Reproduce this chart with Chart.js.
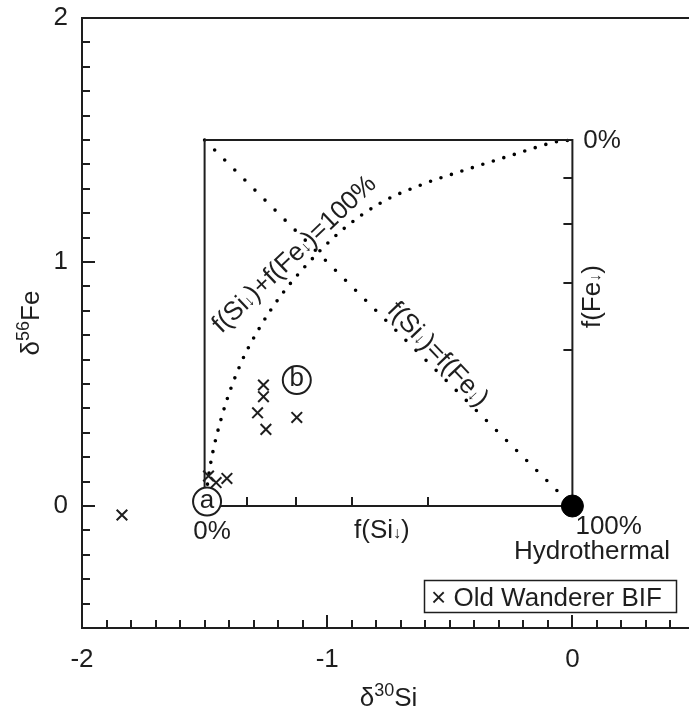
<!DOCTYPE html>
<html>
<head>
<meta charset="utf-8">
<script src="https://cdn.jsdelivr.net/npm/chart.js@4.4.0/dist/chart.umd.min.js"></script>
<style>
  html, body { margin: 0; padding: 0; background: #fff; overflow: hidden; }
</style>
</head>
<body>
<div style="width:711px;height:713px;overflow:hidden">
<canvas id="chart" width="711" height="713" style="width:711px;height:713px"></canvas>
</div>
<script>
// Old Wanderer BIF samples
const wandererX = [-1.837, -1.484, -1.453, -1.409, -1.26, -1.26, -1.284, -1.25, -1.124]
const wandererY = [-0.037, 0.123, 0.096, 0.113, 0.496, 0.448, 0.382, 0.314, 0.363]

// mixing box corners
const boxX = [-1.5, -1.5, 0, 0, -1.5]
const boxY = [1.5, 0, 0, 1.5, 1.5]

// f(Si)=f(Fe) diagonal
const diagX = [-1.5, 0]
const diagY = [1.5, 0]

// f(Si)+f(Fe)=100% curve
const curveX = [-1.5, -1.478, -1.43, -1.355, -1.273, -1.192, -1.097, -0.947, -0.784, -0.62, -0.416, -0.24, -0.063, 0]
const curveY = [0, 0.16, 0.366, 0.578, 0.735, 0.858, 0.974, 1.124, 1.241, 1.315, 1.384, 1.44, 1.493, 1.5]

// hydrothermal end member
const hydroX = [0]
const hydroY = [0]

// circled labels
const markLabels = ['a', 'b']
const markX = [-1.49, -1.124]
const markY = [0.018, 0.516]

// inner ticks on the box (f(Si) along bottom, f(Fe) along right side)
const siTicks = [-1.326, -1.127, -0.897, -0.588]
const feTicks = [1.343, 1.155, 0.913, 0.639]

const ink = '#1e1e1e'
const fontFam = "'Liberation Sans', Arial, Helvetica, sans-serif"
const fs = 26

const toPts = (xs, ys) => xs.map((x, i) => ({x: x, y: ys[i]}))

// draws text with small arrows, centered at 0,0
function richText(ctx, str, size) {
    const parts = str.split(/(↓)/).filter(p => p.length)
    const fonts = parts.map(p => p === '↓' ? `${Math.round(size * 0.62)}px ${fontFam}` : `${size}px ${fontFam}`)
    let widths = parts.map((p, i) => { ctx.font = fonts[i]; return ctx.measureText(p).width })
    let total = widths.reduce((a, b) => a + b, 0)
    let x = -total / 2
    ctx.textAlign = 'left'
    ctx.textBaseline = 'alphabetic'
    parts.forEach((p, i) => {
        ctx.font = fonts[i]
        ctx.fillText(p, x, size * 0.36)
        x += widths[i]
    })
}

function label(chart, str, vx, vy, angle, size) {
    const ctx = chart.ctx
    const px = chart.scales.x.getPixelForValue(vx)
    const py = chart.scales.y.getPixelForValue(vy)
    ctx.save()
    ctx.fillStyle = ink
    ctx.translate(px, py)
    ctx.rotate(angle * Math.PI / 180)
    richText(ctx, str, size)
    ctx.restore()
}

// delta title with superscript mass number
function deltaTitle(ctx, mass, elem, x, y, rot) {
    const parts = [
        {t: 'δ', s: fs, r: 0},
        {t: mass, s: 18, r: 10},
        {t: elem, s: fs, r: 0}
    ]
    ctx.save()
    ctx.fillStyle = ink
    ctx.translate(x, y)
    ctx.rotate(rot)
    let w = parts.map(p => { ctx.font = `${p.s}px ${fontFam}`; return ctx.measureText(p.t).width })
    let cx = -w.reduce((a, b) => a + b, 0) / 2
    ctx.textAlign = 'left'
    ctx.textBaseline = 'alphabetic'
    parts.forEach((p, i) => {
        ctx.font = `${p.s}px ${fontFam}`
        ctx.fillText(p.t, cx, -p.r)
        cx += w[i]
    })
    ctx.restore()
}

const overlay = {
    id: 'overlay',
    afterDatasetsDraw(chart) {
        const ctx = chart.ctx
        const a = chart.chartArea
        const xs = chart.scales.x
        const ys = chart.scales.y
        ctx.save()
        ctx.strokeStyle = ink
        ctx.lineWidth = 2
        // frame
        ctx.strokeRect(a.left, a.top, a.right - a.left, a.bottom - a.top)
        // inward axis ticks every 0.1
        ctx.beginPath()
        for (let i = -20; i <= 5; i++) {
            const px = Math.round(xs.getPixelForValue(i / 10))
            const len = i % 10 === 0 ? 13 : 8
            ctx.moveTo(px, a.bottom)
            ctx.lineTo(px, a.bottom - len)
        }
        for (let i = -5; i <= 20; i++) {
            const py = Math.round(ys.getPixelForValue(i / 10))
            const len = i % 10 === 0 ? 13 : 8
            ctx.moveTo(a.left, py)
            ctx.lineTo(a.left + len, py)
        }
        // box ticks
        const y0 = ys.getPixelForValue(0)
        const x0 = xs.getPixelForValue(0)
        siTicks.forEach(v => {
            const px = Math.round(xs.getPixelForValue(v))
            ctx.moveTo(px, y0)
            ctx.lineTo(px, y0 - 9)
        })
        feTicks.forEach(v => {
            const py = Math.round(ys.getPixelForValue(v))
            ctx.moveTo(x0, py)
            ctx.lineTo(x0 - 9, py)
        })
        ctx.stroke()

        // circled letters
        ctx.fillStyle = ink
        ctx.font = `${fs}px ${fontFam}`
        ctx.textAlign = 'center'
        ctx.textBaseline = 'middle'
        markLabels.forEach((t, i) => {
            ctx.fillText(t, xs.getPixelForValue(markX[i]), ys.getPixelForValue(markY[i]) - 1)
        })

        // legend
        ctx.lineWidth = 1.5
        ctx.strokeRect(424.5, 580.5, 252, 32)
        ctx.font = `${fs}px ${fontFam}`
        ctx.textAlign = 'left'
        ctx.textBaseline = 'alphabetic'
        ctx.fillText('× Old Wanderer BIF', 431, 606)

        // axis titles
        deltaTitle(ctx, '30', 'Si', (a.left + a.right) / 2, 706, 0)
        deltaTitle(ctx, '56', 'Fe', 39, (a.top + a.bottom) / 2, -Math.PI / 2)
        ctx.restore()

        // annotations
        label(chart, '0%', -1.47, -0.098, 0, fs)
        label(chart, 'f(Si↓)', -0.777, -0.091, 0, fs)
        label(chart, '100%', 0.148, -0.078, 0, fs)
        label(chart, 'Hydrothermal', 0.08, -0.18, 0, fs)
        label(chart, '0%', 0.121, 1.507, 0, fs)
        label(chart, 'f(Fe↓)', 0.073, 0.858, -90, fs)
        label(chart, 'f(Si↓)+f(Fe↓)=100%', -1.139, 1.037, -43.6, fs)
        label(chart, 'f(Si↓)=f(Fe↓)', -0.543, 0.626, 46.4, fs)
    }
}

const intLabel = v => Math.abs(v - Math.round(v)) < 1e-6 ? String(Math.round(v)) : ''
const noPad = s => { s.paddingTop = 0; s.paddingBottom = 0; s.paddingLeft = 0; s.paddingRight = 0 }

new Chart(document.getElementById('chart').getContext('2d'), {
    type: 'scatter',
    data: {
        datasets: [
            {
                label: 'marks',
                data: toPts(markX, markY),
                pointStyle: 'circle',
                pointRadius: 14,
                backgroundColor: '#fff',
                borderColor: ink,
                borderWidth: 2,
                order: 0
            },
            {
                label: 'Hydrothermal',
                data: toPts(hydroX, hydroY),
                pointRadius: 11,
                backgroundColor: '#000',
                borderColor: '#000',
                order: 1
            },
            {
                label: 'Old Wanderer BIF',
                data: toPts(wandererX, wandererY),
                pointStyle: 'crossRot',
                pointRadius: 7.5,
                borderColor: ink,
                borderWidth: 2,
                order: 2
            },
            {
                label: 'box',
                data: toPts(boxX, boxY),
                showLine: true,
                borderColor: ink,
                borderWidth: 2,
                pointRadius: 0,
                order: 3
            },
            {
                label: 'equal',
                data: toPts(diagX, diagY),
                showLine: true,
                borderColor: '#000',
                borderWidth: 3.6,
                borderDash: [0, 14.2],
                borderCapStyle: 'round',
                pointRadius: 0,
                order: 4
            },
            {
                label: 'sum',
                data: toPts(curveX, curveY),
                showLine: true,
                cubicInterpolationMode: 'monotone',
                borderColor: '#000',
                borderWidth: 3.6,
                borderDash: [0, 11],
                borderCapStyle: 'round',
                pointRadius: 0,
                order: 5
            }
        ]
    },
    options: {
        responsive: false,
        animation: false,
        events: [],
        layout: { padding: { top: 18, right: 6, left: 0, bottom: 0 } },
        plugins: {
            legend: { display: false },
            tooltip: { enabled: false }
        },
        scales: {
            x: {
                type: 'linear',
                min: -2,
                max: 0.5,
                grid: { display: false, drawTicks: false },
                border: { display: false },
                ticks: {
                    stepSize: 1,
                    autoSkip: false,
                    maxRotation: 0,
                    padding: 16,
                    color: ink,
                    font: { family: fontFam, size: fs },
                    callback: intLabel
                },
                afterFit: s => { s.height = 85; noPad(s) }
            },
            y: {
                type: 'linear',
                min: -0.5,
                max: 2,
                grid: { display: false, drawTicks: false },
                border: { display: false },
                ticks: {
                    stepSize: 1,
                    autoSkip: false,
                    padding: 14,
                    color: ink,
                    font: { family: fontFam, size: fs },
                    callback: intLabel
                },
                afterFit: s => { s.width = 82; noPad(s) }
            }
        }
    },
    plugins: [overlay]
})
</script>
</body>
</html>
